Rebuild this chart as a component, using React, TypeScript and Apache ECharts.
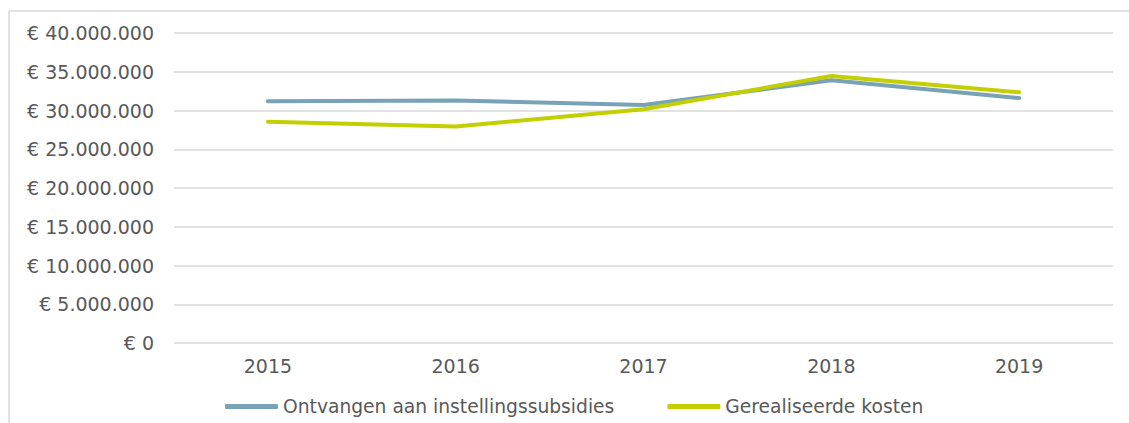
import React, { useEffect, useRef } from "react";
import * as echarts from "echarts";

const categories = ["2015", "2016", "2017", "2018", "2019"];
const ontvangen = [31200000, 31300000, 30700000, 33900000, 31600000];
const gerealiseerd = [28550000, 27950000, 30150000, 34450000, 32350000];
const seriesNames = ["Ontvangen aan instellingssubsidies", "Gerealiseerde kosten"];
const yMin = 0;
const yMax = 40000000;
const yStep = 5000000;

function fmtEuro(v: number): string {
  const s = Math.round(v).toString().replace(/\B(?=(\d{3})+(?!\d))/g, ".");
  return "€ " + s;
}

export default function App() {
  const ref = useRef<HTMLDivElement>(null);
  useEffect(() => {
    if (!ref.current) return;
    const chart = echarts.init(ref.current, undefined, { renderer: "svg" });
    const font = "DejaVu Sans";
    chart.setOption({
      animation: false,
      backgroundColor: "#ffffff",
      graphic: [
        {
          type: "line",
          shape: { x1: 9, y1: 11, x2: 1129, y2: 11 },
          style: { stroke: "#d9d9d9", lineWidth: 1.5 },
        },
        {
          type: "line",
          shape: { x1: 9, y1: 11, x2: 9, y2: 423 },
          style: { stroke: "#d9d9d9", lineWidth: 1.5 },
        },
      ],
      grid: { left: 174, right: 16, top: 33, bottom: 80, containLabel: false },
      xAxis: {
        type: "category",
        data: categories,
        boundaryGap: true,
        axisLine: { show: false },
        axisTick: { show: false },
        axisLabel: { color: "#595959", fontFamily: font, fontSize: 19, margin: 13 },
      },
      yAxis: {
        type: "value",
        min: yMin,
        max: yMax,
        interval: yStep,
        axisLine: { show: false },
        axisTick: { show: false },
        splitLine: { lineStyle: { color: "#d9d9d9", width: 1.5 } },
        axisLabel: {
          color: "#595959",
          fontFamily: font,
          fontSize: 19,
          margin: 20,
          formatter: (v: number) => fmtEuro(v),
        },
      },
      legend: {
        left: 225,
        top: 397,
        padding: 0,
        itemWidth: 53,
        itemHeight: 5,
        itemGap: 53,
        icon: "roundRect",
        textStyle: { color: "#595959", fontFamily: font, fontSize: 18.7 },
        data: seriesNames,
      },
      series: [
        {
          name: seriesNames[0],
          type: "line",
          data: ontvangen,
          symbol: "none",
          color: "#78a2b6",
          lineStyle: { width: 4, color: "#78a2b6", cap: "round", join: "round" },
        },
        {
          name: seriesNames[1],
          type: "line",
          data: gerealiseerd,
          symbol: "none",
          color: "#c2cf00",
          lineStyle: { width: 4, color: "#c2cf00", cap: "round", join: "round" },
        },
      ],
    });
    return () => chart.dispose();
  }, []);
  return (
    <div
      ref={ref}
      style={{ position: "absolute", left: 0, top: 0, width: 1129, height: 423 }}
    />
  );
}
